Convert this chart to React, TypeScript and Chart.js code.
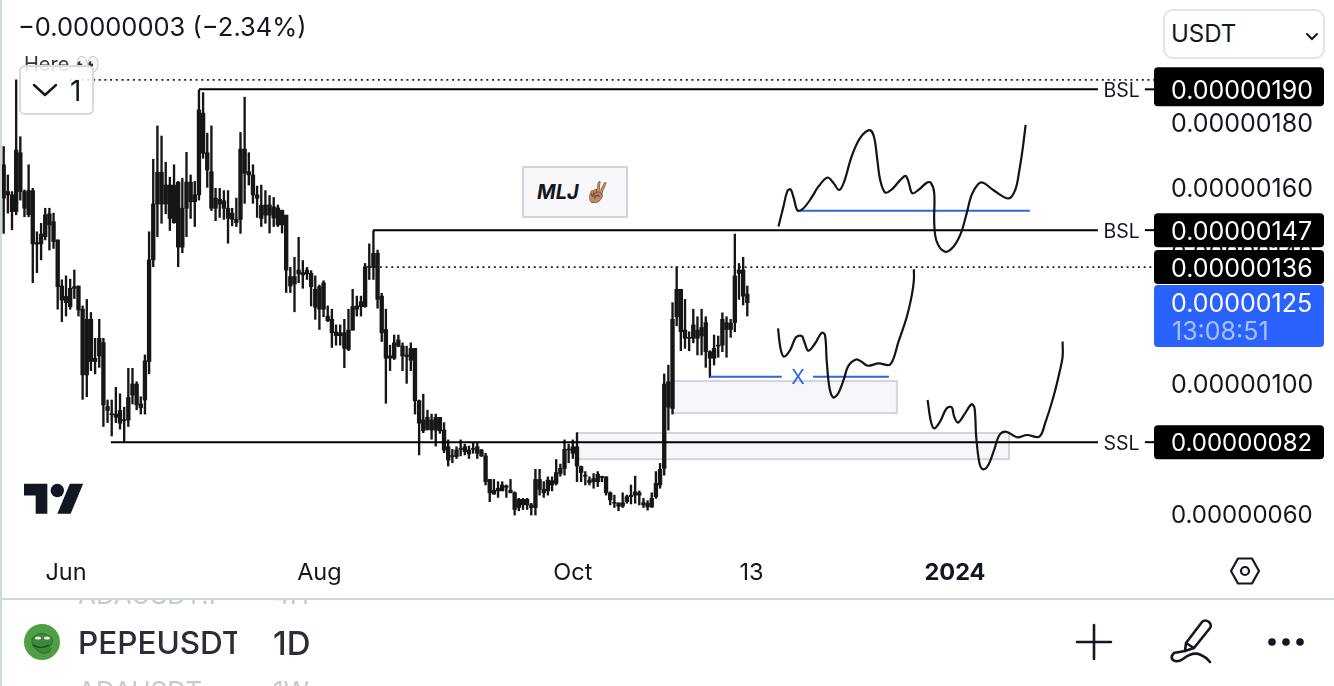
import React, { useEffect, useRef } from "react";
import { Chart, registerables } from "chart.js";

Chart.register(...registerables);

// Prices are in units of 0.00000001 USDT. Rows: [high, body top, body bottom, low]
const candlesMay = [
  [172.5,166.9,156.7,145.9],[163.8,158.7,157.7,152.1],[158.7,157.7,152.6,147],[192.9,171.4,152.6,151.6],[175.5,170.6,158.7,156.1],
  [159.2,158.7,153.6,151],[166.9,159,151.6,151],[159.7,159,142.7,130.8],[146.4,143.1,142.6,133.9],[149,145.7,142.7,137.8],
  [153.6,151.6,144.9,143.9],[153.6,151.9,148.5,140.8],[152.1,149.5,143.4,141.3],[143.9,143.9,129.6,122.7],[131.7,129.8,125.5,118.9],
];
const candlesJun = [
  [132.9,126.6,124.7,120.6],[131.9,129.1,123.5,122.7],[134.7,129.6,129.1,126],[129.8,129.8,122.5,120.6],[123.7,122.7,102.6,95.1],
  [125.7,119.6,102.6,95.9],[121.7,119.6,106.7,103.9],[113.8,107.7,106.7,102.9],[119.6,113.8,108.4,104.9],[113.8,112.5,93.4,86.8],
  [94.9,92.9,91.7,88],[94.9,90.6,90.4,83.9],[98.8,90.6,89.6,88],[96.8,91.7,87.8,86],[92.7,88.8,88.6,81.9],
  [104.6,95.7,88.8,86.8],[104.6,99.8,96.4,93.7],[100.5,99.8,93.4,91.9],[95.9,93.7,92.5,90.6],[108.7,106.9,94.9,90.6],
  [146.4,137.8,106.7,102.9],[168.6,154.9,137.8,135.7],[178.8,164.6,154.9,144.9],[175.7,164.6,154.9,149],[167.7,160.7,154.9,151.9],
  [163.1,160.7,150.5,146.8],[166.9,160.7,149.2,149],[161.8,161.6,141.7,135.7],[162.8,153.6,141.7,140],[170.7,161.6,153.6,144.9],
];
const candlesJul = [
  [163.8,161.6,155.6,150.5],[161.8,157.7,155.6,148],[189.8,183.7,157.7,156.1],[189,182.7,170.4,168.9],[176.6,170.6,165.3,160],
  [178.8,164.8,153.6,152.9],[159.7,156.7,153.6,149.8],[159.7,156.3,154.9,150.8],[159,155.9,153.6,150.2],[159,153.6,150.5,142.9],
  [153.6,152.1,150.2,148.2],[156.7,150.2,149.2,148],[176.8,171.7,150.2,145.9],[187.6,171.7,164.3,155.1],[170.6,164.8,163.8,160.7],
  [166.9,163.8,157.7,155.1],[160.4,157.7,156.7,150.8],[160.7,154.5,150.5,148],[159,154.6,151.5,149],[157.5,154.6,151.5,146],
  [156.9,154,150.6,148],[154.6,153.7,148.5,148],[153,153,148.5,146],[151.5,151.5,134.7,127.8],[135.5,132.7,129.8,127.8],
  [138.6,132.7,130.4,121.9],[144.7,134.7,133.5,130.8],[137.6,133.9,133.2,129.1],[135.5,134.7,133.5,131.8],[134.5,133.7,129.6,123.7],
  [132.9,128.8,123.3,119.6],
];
const candlesAug = [
  [130.1,129.6,122.7,116.5],[131.4,130.8,122.7,120.4],[123.7,120.6,119.2,118.9],[122.7,119.6,115.5,111],[117.9,115.7,114.6,111.7],
  [117.9,115.5,114.6,111.7],[119.6,115.5,110.7,104.8],[122.7,116.3,110.4,110],[128.8,123.5,116.3,116.3],[126.7,123.7,122.7,120.6],
  [126.7,125,123.5,120.6],[136.7,135.7,123.5,123.3],[142.7,135.7,135.5,131.8],[146.7,139.8,135.5,131.8],[140.8,139.8,125.7,123],
  [127.6,126.7,115.5,112.8],[122.7,116.5,107.7,93.9],[111.7,108.4,107.7,103.9],[114.8,112.4,107.7,107.3],[114.8,113.3,111.4,111.2],
  [112.4,111.4,108.4,103.9],[111.4,108.7,108.2,100],[112.4,110.7,107.1,103.9],[110.7,110.7,94.7,90.6],[94.9,94.7,87.8,78.1],
  [96.7,88.8,85.5,84.9],[91.8,89.6,85.9,85.7],[90.6,88.8,85.7,82.9],[90.6,89.6,85.7,80.8],[89.6,89.6,85.5,84.7],
  [88,85.7,79.6,78.8],
];
const candlesSep = [
  [82.7,80.6,76.5,74.7],[79.8,77.8,77.6,75.7],[80.6,79.6,77.6,77],[82.7,80.1,79.8,77.8],[81.4,80.6,79.1,78.1],
  [80.8,79.6,78.4,77],[81.8,80.1,79.8,78.6],[81.6,80.6,78.6,77],[79.8,79.6,77.8,77.6],[78.6,77.8,69.9,68.9],
  [70.6,70.6,66.5,63.8],[70.6,67.3,66.1,66.1],[69.9,67.9,67.1,65.1],[69.9,68.9,67.1,67.1],[68.9,68.6,68.2,65.1],
  [70.6,67.3,66.5,66.5],[66.8,66.5,61.4,59.7],[64.8,64.5,62,61],[64.8,64.5,62.8,61.4],[64.8,64.5,62.8,61.4],
  [63.3,62.8,62,59.7],[73.7,70.6,62,59.7],[73.7,70.6,67.6,65.8],[69.9,67.6,66.5,65.1],[71.4,70.4,67.1,65.8],
  [71.4,70.2,68.9,67.1],[76.7,72.7,69.4,68.9],[75.3,74,72.4,71.6],[82.7,79.8,74,71.9],[81.4,79.8,79.6,75.7],
];
const candlesOct = [
  [82.7,80.6,78.6,77],[84.9,80.6,74.7,69.9],[74.7,74.5,72.7,69.9],[73,71.9,71.6,68.9],[71.4,70.4,69.6,68.9],
  [72.4,70.9,69.9,67.9],[73,72.2,69.9,68.4],[71.6,71.4,71.2,69.9],[71.4,71.4,66.5,65.8],[66.8,66.5,64.3,62.8],
  [65.8,63.5,63.3,62],[63.5,63.3,62.4,61],[66.5,63.5,62.4,62],[65.8,65.3,63.8,63.3],[68.9,65.8,65.3,63.1],
  [71.6,66.8,65.8,63.3],[67.1,66.5,65.8,62.8],[64.8,63.5,62.8,62],[64.1,63.3,62.2,61.2],[66.5,64.8,62.2,62],
  [73,69.4,65.3,64.8],[75.5,73.7,68.9,67.9],[102.9,99.8,74,71.9],[105.6,100.5,92.7,85.7],[124.7,119.6,92.3,90.6],
  [135.7,128.8,120.4,117.6],[128.8,128.8,115.8,110],[125.7,116.3,113.8,110.7],[115.8,114.1,113.8,110],[122.7,117.9,113.8,112.4],
  [120.4,116.3,113.8,108.7],
];
const candlesNov = [
  [122.7,117.1,114.5,108.7],[120.4,118.6,109.7,104.9],[110,109.7,107.7,101.8],[114.8,110.7,107.7,105.6],[114.5,111.7,111.4,108],
  [121.6,119.6,111.7,109.7],[120.4,118.6,116.5,108],[119.6,118.4,116.5,114.1],[145.7,132.9,118.6,115.8],[136.7,134.7,133.7,125.7],
  [138.6,134.7,126.7,124],[129.8,127.3,124.7,120.6],
];
const candleRows = [...candlesMay, ...candlesJun, ...candlesJul, ...candlesAug, ...candlesSep, ...candlesOct, ...candlesNov];
const firstCandleDay = -15; // days counted from 1 June 2023

// Time-axis ticks: day number and label
const xTickDays = [0, 61, 122, 165, 214];
const xTickLabels = ["Jun", "Aug", "Oct", "13", "2024"];
const yTickValues = [60, 80, 100, 120, 140, 160, 180];

// Hand-drawn projections: [day, price]
const sketchUpper = [
  [171.5,148],[172.7,154.1],[173.6,158.7],[174.4,159.4],[175.2,156.6],[176.1,152.9],[177.5,153.6],[179.5,156.9],[181.1,160.2],[183.3,163],
  [184.7,161.4],[186.1,159.2],[187.3,161.7],[189.1,169.4],[191.1,175],[193.4,177.5],[194.5,175.5],[195.3,168.4],[196,162.2],[197.2,158.4],
  [198.8,159.4],[200.8,162.2],[202.1,163.5],[202.8,161.7],[203.7,158.2],[205.2,159.2],[207.2,161.4],[208.2,161.4],[209,158.2],[209,149],
  [209.6,143.4],[211.6,140.3],[213.6,141.8],[215.4,145.9],[216.8,152],[218,157.7],[219.6,161],[220.8,161.4],[223.2,159.2],[226.9,156.6],
  [228.5,159.2],[229.5,165.3],[230.3,171.9],[231,179.1],
];
const sketchMiddle = [
  [171.4,116.8],[172,110.7],[172.8,108.2],[174.3,110.2],[175.7,114.1],[177.1,114.5],[177.7,112.8],[178.7,110],[180.3,112.2],[181.9,115.5],
  [182.7,114.8],[183.1,107.2],[183.8,98.5],[184.7,95.7],[185.9,97],[187.3,101.5],[188.3,105.3],[190.2,107.3],[191.5,106.6],[193,105.4],
  [195.6,106.1],[198.4,105.8],[200.4,112.8],[202.4,120.4],[203.6,127],[204.1,131.6],[204.1,134.9],
];
const sketchLower = [
  [207.4,94.9],[208.2,88.3],[209,86.2],[210.4,88.3],[212,92.4],[213.2,92.7],[213.8,89.8],[214.7,88],[216.3,90.6],[218,93.6],
  [218.7,92.4],[219.1,83.7],[219.9,75.5],[220.8,73.7],[222,75],[223.4,79.6],[224.7,84.2],[226.3,85.2],[228.9,83.5],[231.3,84.2],
  [234.3,83.7],[235.7,87.8],[237.7,95.9],[239.1,103.1],[239.9,108.2],[239.9,112.8],
];

// Horizontal levels: [start day, end day, price]
const liquiditySolid = [
  [32, 248.4, 190], [259.7, 262, 190],
  [73.9, 248.4, 146.9], [259.7, 262, 146.9],
  [10.8, 248.4, 82], [259.7, 262, 82],
];
const liquidityDotted = [[1, 262, 192.9], [72.8, 262, 135.6]];
const blueLevels = [[176, 232, 152.8], [155, 172.3, 102], [179.8, 198.1, 102]];
const blueCross = [176.2, 102];

// Zones: [start day, end day, upper price, lower price]
const zones = [[145.9, 200, 100.7, 90.9], [123, 227, 84.8, 76.8]];

// Level labels: [price, text]
const levelLabels: [number, string][] = [[190, "BSL"], [146.9, "BSL"], [82, "SSL"]];
const levelLabelDay = 254.1;
// Price tags on the axis: [price, text]
const blackTags: [number, string][] = [[190, "0.00000190"], [146.9, "0.00000147"], [135.6, "0.00000136"], [82, "0.00000082"]];
const lastPrice = 124.9;
const lastPriceText = "0.00000125";
const countdown = "13:08:51";

const axisFont = 'Inter, "Noto Sans", sans-serif';
const textColor = "#131722";

// The reference's digits are all one width; Inter's "1" is narrow, so labels without one are set a little smaller.
const priceFontSize = (text: string) => (/1/.test(text) ? 25 : 24);

const segmentDataset = (seg: number[], color: string, width: number, dash: number[] = []) => ({
  type: "line" as const,
  data: [{ x: seg[0], y: seg[2] }, { x: seg[1], y: seg[2] }],
  borderColor: color,
  borderWidth: width,
  borderDash: dash,
  pointRadius: 0,
  order: 0,
});
const sketchDataset = (pts: number[][]) => ({
  type: "line" as const,
  data: pts.map((p) => ({ x: p[0], y: p[1] })),
  borderColor: "#141414",
  borderWidth: 2.2,
  pointRadius: 0,
  tension: 0.35,
  order: 0,
});

const annotations = {
  id: "annotations",
  beforeDatasetsDraw(chart: any) {
    const { ctx, scales: { x, y } } = chart;
    ctx.save();
    for (const z of zones) {
      const l = x.getPixelForValue(z[0]), r = x.getPixelForValue(z[1]);
      const t = y.getPixelForValue(z[2]), b = y.getPixelForValue(z[3]);
      ctx.fillStyle = "#f7f7fb";
      ctx.fillRect(l, t, r - l, b - t);
      ctx.strokeStyle = "#d1d4dc";
      ctx.lineWidth = 2;
      ctx.strokeRect(l, t, r - l, b - t);
    }
    ctx.restore();
  },
  afterDraw(chart: any) {
    const { ctx, scales: { x, y } } = chart;
    const left = y.left;
    const right = 1324;
    ctx.save();
    ctx.textBaseline = "middle";
    ctx.textAlign = "center";
    ctx.fillStyle = "#131722";
    ctx.font = `19.5px ${axisFont}`;
    for (const [p, t] of levelLabels) ctx.fillText(t, x.getPixelForValue(levelLabelDay), y.getPixelForValue(p) + 2);
    ctx.fillStyle = "#2f66dc";
    ctx.font = `20px ${axisFont}`;
    ctx.fillText("X", x.getPixelForValue(blueCross[0]), y.getPixelForValue(blueCross[1]) + 1);

    ctx.textAlign = "left";
    ctx.font = `25px ${axisFont}`;
    const py = y.getPixelForValue(lastPrice);
    ctx.fillStyle = "#2962ff";
    ctx.beginPath();
    ctx.roundRect(left, py - 17, right - left, 62, 4);
    ctx.fill();
    ctx.fillStyle = "#ffffff";
    ctx.fillText(lastPriceText, left + 17, py + 2);
    ctx.fillStyle = "#a9c1ff";
    ctx.fillText(countdown, left + 18, py + 30);

    for (const [p, t] of blackTags) {
      const c = y.getPixelForValue(p);
      const top = p === 190 ? c - 22 : c - 17;
      const bottom = c + 17;
      ctx.fillStyle = "#000000";
      ctx.beginPath();
      ctx.roundRect(left, top, right - left, bottom - top, 4);
      ctx.fill();
      ctx.fillStyle = "#ffffff";
      ctx.font = `${priceFontSize(t)}px ${axisFont}`;
      ctx.fillText(t, left + 17, c + 2);
    }
    ctx.restore();
  },
};

const abs = (s: React.CSSProperties): React.CSSProperties => ({ position: "absolute", whiteSpace: "nowrap", ...s });

const noPadding = (s: any) => {
  s.paddingTop = 0;
  s.paddingBottom = 0;
  s.paddingLeft = 0;
  s.paddingRight = 0;
};

export default function App() {
  const ref = useRef<HTMLCanvasElement>(null);
  useEffect(() => {
    const bodies = candleRows.map((r, i) => ({ x: firstCandleDay + i, y: [r[2], r[1]] }));
    const wicks = candleRows.map((r, i) => ({ x: firstCandleDay + i, y: [r[3], r[0]] }));
    const chart = new Chart(ref.current!, {
      type: "bar",
      data: {
        datasets: [
          sketchDataset(sketchUpper),
          sketchDataset(sketchMiddle),
          sketchDataset(sketchLower),
          ...liquiditySolid.map((s) => segmentDataset(s, "#000000", 2)),
          ...liquidityDotted.map((s) => segmentDataset(s, "#222222", 1.7, [2, 3.7])),
          ...blueLevels.map((s) => segmentDataset(s, "#2f66dc", 2)),
          { type: "bar", data: bodies, backgroundColor: "#161616", barThickness: 3.7, grouped: false, minBarLength: 1, order: 1 },
          { type: "bar", data: wicks, backgroundColor: "#161616", barThickness: 1.7, grouped: false, order: 2 },
        ] as any,
      },
      options: {
        responsive: false,
        animation: false,
        events: [],
        layout: { padding: 0 },
        plugins: { legend: { display: false }, tooltip: { enabled: false } },
        scales: {
          x: {
            type: "linear",
            offset: false,
            min: -15.89,
            max: 261.9,
            grid: { display: false, drawTicks: false },
            border: { display: false },
            afterBuildTicks: (s: any) => { s.ticks = xTickDays.map((value) => ({ value })); },
            afterFit: (s: any) => { s.height = 136; noPadding(s); },
            ticks: {
              autoSkip: false,
              maxRotation: 0,
              padding: 8.5,
              color: textColor,
              font: (c: any) => ({ family: axisFont, size: 23.5, weight: c.tick && c.tick.value === 214 ? "bold" : "normal" }),
              callback: (v: any) => xTickLabels[xTickDays.indexOf(v)] ?? "",
            },
          },
          y: {
            type: "linear",
            position: "right",
            min: 49,
            max: 217.34,
            grid: { display: false, drawTicks: false },
            border: { display: false },
            afterBuildTicks: (s: any) => { s.ticks = yTickValues.map((value) => ({ value })); },
            afterFit: (s: any) => { s.width = 180; noPadding(s); },
            ticks: {
              padding: 17,
              labelOffset: 2,
              color: textColor,
              font: (c: any) => ({ family: axisFont, size: priceFontSize(c.tick ? (c.tick.value / 1e8).toFixed(8) : "1") }),
              callback: (v: any) => (v / 1e8).toFixed(8),
            },
          },
        },
      } as any,
      plugins: [annotations as any],
    });
    return () => chart.destroy();
  }, []);

  return (
    <div style={{ position: "absolute", left: 0, top: 0, width: 1334, height: 686, overflow: "hidden", background: "#fff", fontFamily: axisFont, color: textColor }}>
      <canvas ref={ref} width={1334} height={686} style={{ position: "absolute", left: 0, top: 0, width: 1334, height: 686 }} />

      <div style={abs({ left: 0, top: 0, width: 2, height: 686, background: "#cfd8dc" })} />
      <div style={abs({ left: 18, top: 12, fontSize: 25.5, lineHeight: "30px" })}>−0.00000003 (−2.34%)</div>
      <div style={abs({ left: 24, top: 52, fontSize: 20, lineHeight: "24px", color: "#333" })}>Here 👀</div>
      <div style={abs({ left: 19, top: 65, width: 75, height: 50, boxSizing: "border-box", border: "2px solid #d6d9e0", borderRadius: 6, background: "rgba(255,255,255,0.85)" })}>
        <svg width="30" height="20" style={{ position: "absolute", left: 11, top: 14 }}><path d="M2 4 L13 14 L24 4" fill="none" stroke="#131722" strokeWidth="2.4" strokeLinecap="round" strokeLinejoin="round" /></svg>
        <span style={abs({ left: 49, top: 9, fontSize: 28, lineHeight: "30px" })}>1</span>
      </div>

      <div style={abs({ left: 1163, top: 9, width: 162, height: 50, boxSizing: "border-box", border: "2px solid #e0e3eb", borderRadius: 10, background: "#fff" })}>
        <span style={abs({ left: 6, top: 8, fontSize: 24, lineHeight: "30px" })}>USDT</span>
        <svg width="14" height="10" style={{ position: "absolute", left: 140, top: 21 }}><path d="M2 2 L7 7 L12 2" fill="none" stroke="#131722" strokeWidth="2" strokeLinecap="round" /></svg>
      </div>

      <div style={abs({ left: 522, top: 166, width: 106, height: 52, boxSizing: "border-box", border: "2px solid #d1d4dc", background: "#f8f8fb", fontSize: 20, fontWeight: 700, fontStyle: "italic", lineHeight: "48px", paddingLeft: 13 })}>MLJ ✌🏽</div>

      <svg width="60" height="47" viewBox="0 0 36 28" style={{ position: "absolute", left: 24, top: 477 }}>
        <path d="M14 22H7V11H0V4h14v18zM28 22h-8l7.5-18h8L28 22z" fill="#131722" /><circle cx="20" cy="8" r="4" fill="#131722" />
      </svg>

      <svg width="32" height="30" style={{ position: "absolute", left: 1229, top: 556 }}>
        <path d="M9 2.5 H23 L30 15 L23 27.5 H9 L2 15 Z" fill="none" stroke="#131722" strokeWidth="2.2" strokeLinejoin="round" />
        <circle cx="16" cy="15" r="4" fill="none" stroke="#131722" strokeWidth="2.2" />
      </svg>

      <div style={abs({ left: 0, top: 598, width: 1334, height: 1.5, background: "#cfd8dc" })} />
      <div style={abs({ left: 0, top: 599.5, width: 1334, height: 8, overflow: "hidden", color: "#c9c9c9", fontSize: 26 })}>
        <span style={abs({ left: 78, top: -20, lineHeight: "30px" })}>ADAUSDT.P</span>
        <span style={abs({ left: 273, top: -20, lineHeight: "30px" })}>4H</span>
      </div>
      <div style={abs({ left: 0, top: 678, width: 1334, height: 8, overflow: "hidden", color: "#c9c9c9", fontSize: 26 })}>
        <span style={abs({ left: 78, top: -2, lineHeight: "30px" })}>ADAUSDT</span>
        <span style={abs({ left: 273, top: -2, lineHeight: "30px" })}>1W</span>
      </div>

      <svg width="38" height="38" style={{ position: "absolute", left: 23, top: 623 }}>
        <circle cx="19" cy="19" r="18" fill="#4f9e45" />
        <path d="M9 15 q10 -9 20 0 q2 6 -3 8 q3 3 0 6 q-8 3 -12 -2 q-6 -4 -5 -12z" fill="#3d8a38" stroke="#2c5e2a" strokeWidth="0.8" />
        <ellipse cx="15" cy="15" rx="3" ry="1.6" fill="#e8efe0" /><ellipse cx="24" cy="15" rx="3" ry="1.6" fill="#e8efe0" />
        <path d="M10 22 q8 5 16 0" fill="none" stroke="#1f3d1d" strokeWidth="1.2" />
      </svg>
      <div style={abs({ left: 78, top: 624, width: 159, height: 38, overflow: "hidden", fontSize: 31.5, fontWeight: 500, lineHeight: "38px", color: "#2a2e39" })}>PEPEUSDT</div>
      <div style={abs({ left: 273, top: 624, fontSize: 33, fontWeight: 500, lineHeight: "38px", color: "#2a2e39" })}>1D</div>

      <svg width="38" height="38" style={{ position: "absolute", left: 1075, top: 623 }}>
        <path d="M19 2 V36 M2 19 H36" stroke="#131722" strokeWidth="2.6" strokeLinecap="round" />
      </svg>
      <svg width="44" height="48" style={{ position: "absolute", left: 1169, top: 617 }}>
        <path d="M17 26 L33 5 Q36 2 40 5 Q43 8 41 11 L25 31 L16 34 Z M17 26 L25 31" fill="none" stroke="#131722" strokeWidth="2.6" strokeLinejoin="round" />
        <path d="M16 34 L5 36 Q1 40 4 43 Q8 46 14 42 Q24 34 32 38 Q37 40 41 45" fill="none" stroke="#131722" strokeWidth="2.6" strokeLinecap="round" />
      </svg>
      <svg width="40" height="12" style={{ position: "absolute", left: 1266, top: 636 }}>
        <circle cx="6" cy="6" r="3.8" fill="#131722" /><circle cx="20" cy="6" r="3.8" fill="#131722" /><circle cx="34" cy="6" r="3.8" fill="#131722" />
      </svg>
    </div>
  );
}
